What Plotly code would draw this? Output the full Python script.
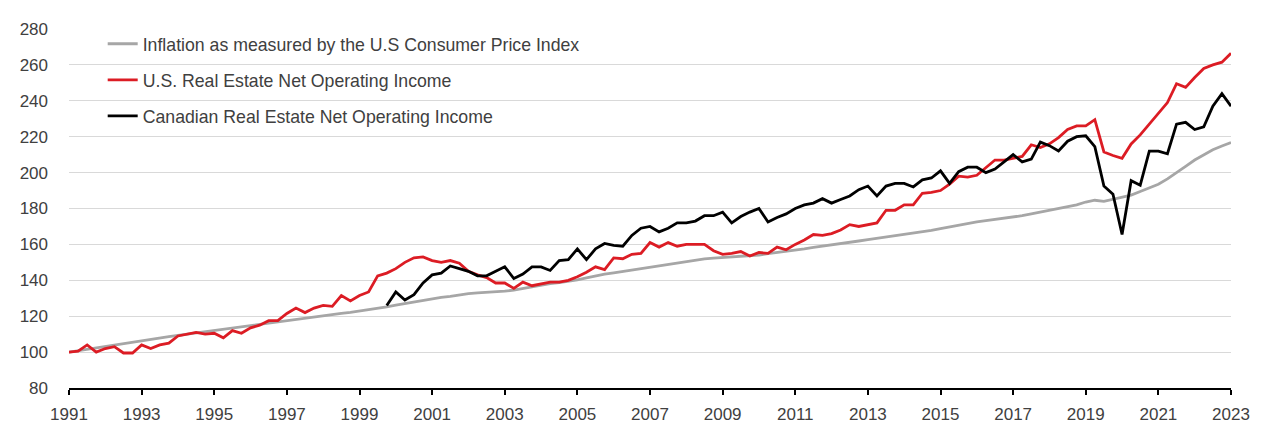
import plotly.graph_objects as go

# quarterly observations, 1991Q1 .. 2023Q1
first_year = 1991
quarters = [first_year + i / 4 for i in range(129)]

cpi = [
    100.0, 100.8, 101.6, 102.6,
    103.4, 104.2, 105.0, 105.8,
    106.6, 107.3, 108.0, 108.6,
    109.3, 110.0, 110.7, 111.4,
    112.0, 112.6, 113.2, 113.9,
    114.7, 115.4, 116.1, 116.8,
    117.6, 118.4, 119.2, 119.9,
    120.5, 121.1, 121.6, 122.1,
    122.8, 123.6, 124.4, 125.2,
    126.2, 127.1, 127.9, 128.7,
    129.7, 130.5, 131.1, 131.9,
    132.6, 133.0, 133.2, 133.5,
    134.0, 134.5, 135.5, 136.5,
    137.5, 138.2, 138.7, 139.4,
    140.3, 141.4, 142.6, 143.4,
    144.2, 145.0, 145.6, 146.3,
    147.3, 148.3, 149.0, 149.8,
    150.5, 151.3, 151.9, 152.4,
    152.7, 153.0, 153.3, 153.6,
    154.1, 154.8, 155.4, 156.0,
    156.7, 157.5, 158.3, 159.1,
    159.9, 160.7, 161.3, 161.9,
    162.6, 163.3, 163.9, 164.6,
    165.3, 166.1, 166.9, 167.8,
    168.8, 169.8, 170.7, 171.6,
    172.5, 173.2, 173.8, 174.4,
    175.1, 176.0, 177.0, 178.0,
    178.9, 180.0, 181.1, 182.0,
    183.6, 184.6, 184.0, 185.3,
    186.5, 187.5, 189.5, 191.5,
    193.5, 196.5, 199.8, 203.5,
    207.0, 210.0, 212.7, 214.8,
    216.7,
]

us_noi = [
    100.0, 100.5, 104.0, 100.0,
    102.0, 103.0, 99.5, 99.5,
    104.0, 102.0, 104.0, 105.0,
    109.0, 110.0, 111.0, 110.0,
    110.5, 108.0, 112.0, 110.5,
    113.5, 115.0, 117.5, 117.5,
    121.5, 124.5, 122.0, 124.5,
    126.0, 125.5, 131.5, 128.5,
    131.5, 133.5, 142.5, 144.0,
    146.5, 150.0, 152.5, 153.0,
    151.0, 150.0, 151.0, 149.5,
    145.0, 143.0, 141.5, 138.5,
    138.5, 135.5, 139.0, 137.0,
    138.0, 139.0, 139.0, 140.0,
    142.0, 144.5, 147.5, 146.0,
    152.5, 152.0, 154.5, 155.0,
    161.0, 158.5, 161.0, 159.0,
    160.0, 160.0, 160.0, 156.5,
    154.5, 155.0, 156.0, 153.5,
    155.5, 155.0, 158.5, 157.0,
    160.0, 162.5, 165.5, 165.0,
    166.0, 168.0, 171.0, 170.0,
    171.0, 172.0, 179.0, 179.0,
    182.0, 182.0, 188.5, 189.0,
    190.0, 193.5, 198.0, 197.5,
    198.5, 203.0, 207.0, 207.0,
    208.0, 209.0, 215.5, 214.0,
    216.0, 219.5, 224.0, 226.0,
    226.0, 229.5, 211.5, 209.5,
    208.0, 216.0, 221.0, 227.0,
    232.5, 239.0, 249.5, 247.5,
    253.0, 258.0, 260.0, 261.5,
    266.5,
]

# Canadian series only begins in 1999Q4
canada_noi = [None] * 35 + [
    126.0,
    133.5, 129.0, 132.0, 138.5,
    143.0, 144.0, 148.0, 146.5,
    145.0, 142.5, 142.5, 145.0,
    147.5, 141.0, 143.5, 147.5,
    147.5, 145.5, 151.0, 151.5,
    157.5, 151.5, 157.5, 160.5,
    159.5, 159.0, 165.0, 169.0,
    170.0, 167.0, 169.0, 172.0,
    172.0, 173.0, 176.0, 176.0,
    178.0, 172.0, 175.5, 178.0,
    180.0, 172.5, 175.0, 177.0,
    180.0, 182.0, 183.0, 185.5,
    183.0, 185.0, 187.0, 190.5,
    192.5, 187.0, 192.5, 194.0,
    194.0, 192.0, 196.0, 197.0,
    201.0, 194.0, 200.5, 203.0,
    203.0, 200.0, 202.0, 206.0,
    210.0, 206.0, 207.5, 217.0,
    215.0, 212.0, 217.5, 220.0,
    220.5, 214.5, 192.5, 188.0,
    165.5, 195.5, 193.0, 212.0,
    212.0, 210.5, 227.0, 228.0,
    224.0, 225.5, 237.0, 244.0,
    237.0,
]

series_names = [
    "Inflation as measured by the U.S Consumer Price Index",
    "U.S. Real Estate Net Operating Income",
    "Canadian Real Estate Net Operating Income",
]
year_ticks = list(range(1991, 2024, 2))
value_ticks = list(range(80, 281, 20))

font = "Liberation Sans, Arial, sans-serif"
text_col = "#404040"

fig = go.Figure()
for name, vals, col in zip(series_names, [cpi, us_noi, canada_noi],
                           ["#a6a6a6", "#dc1c24", "#000000"]):
    fig.add_trace(go.Scatter(x=quarters, y=vals, name=name, mode="lines",
                             line=dict(color=col, width=2.8),
                             legendgroup=name))

# the page body adds 8px on the left/top, so margins are shifted to match
fig.update_layout(
    width=1280, height=434,
    margin=dict(l=59, r=57, t=16, b=54),
    paper_bgcolor="white", plot_bgcolor="white",
    font=dict(family=font, size=17, color=text_col),
    showlegend=True,
    legend=dict(x=0.029, y=1.009, xanchor="left", yanchor="top",
                bgcolor="rgba(0,0,0,0)", tracegroupgap=10,
                itemwidth=30, font=dict(size=17.7, color=text_col)),
    xaxis=dict(range=[1991, 2023], tickvals=year_ticks, showgrid=False,
               showline=True, linecolor="#000000", linewidth=1.5,
               ticks="outside", ticklen=5, tickcolor="#000000", tickwidth=1.5,
               ticklabelstandoff=5, zeroline=False),
    xaxis2=dict(range=[1991, 2023], tickvals=year_ticks, overlaying="x",
                anchor="y", showticklabels=False, showgrid=False,
                ticks="inside", ticklen=5, tickcolor="#000000", tickwidth=1.5,
                zeroline=False, showline=False),
    yaxis=dict(range=[80, 280], tickvals=value_ticks, showgrid=True,
               gridcolor="#d9d9d9", gridwidth=1, zeroline=False,
               showline=False, ticks="", ticklabelstandoff=20),
)

fig.write_html("out.html")
